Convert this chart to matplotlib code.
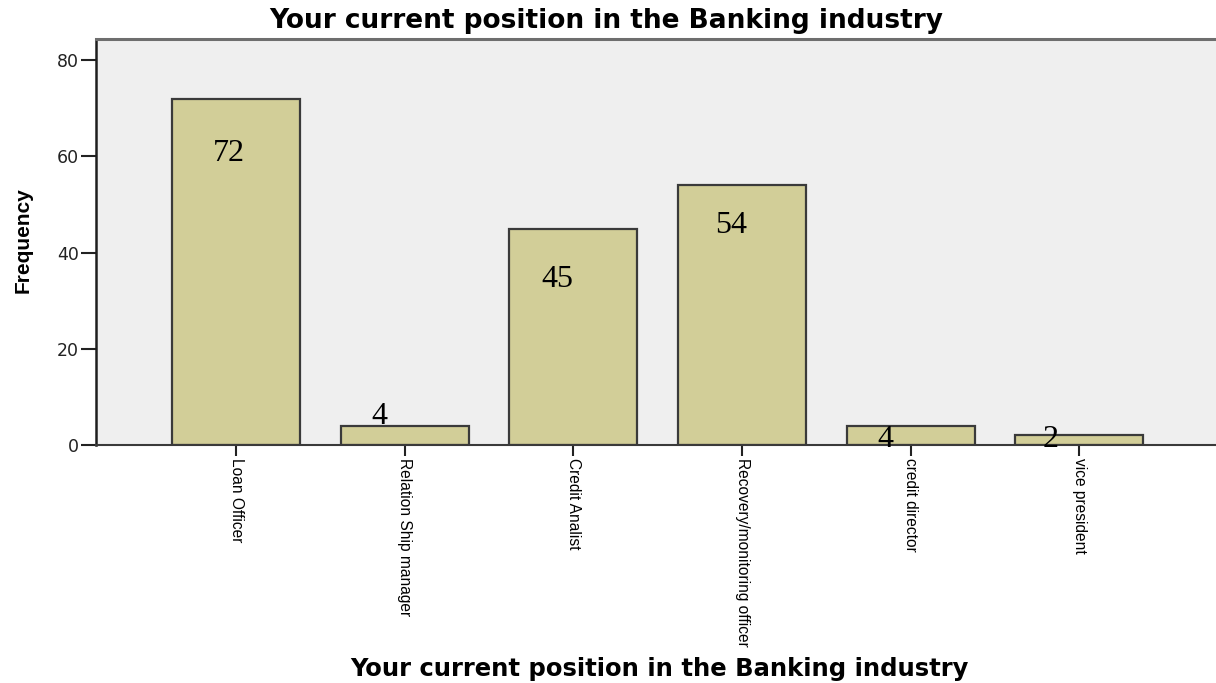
import matplotlib
matplotlib.use("Agg")
import matplotlib.pyplot as plt
import numpy as np

# Survey counts: current position in the banking industry
positions = ["Loan Officer", "Relation Ship manager", "Credit Analist",
             "Recovery/monitoring officer", "credit director", "vice president"]
frequency = [72, 4, 45, 54, 4, 2]
y_ticks = [0, 20, 40, 60, 80]

# Hand-placed annotation offsets (dx in category units, dy in frequency units)
label_dx = [-0.04, -0.15, -0.095, -0.065, -0.15, -0.17]
label_dy = [-13.0, 0.4, -12.15, -9.9, -4.4, -2.4]

fig = plt.figure(figsize=(12.16, 6.83), dpi=100)
ax = fig.add_axes([96 / 1216, 1 - 445 / 683, 1 - 96 / 1216, (445 - 39) / 683])
ax.set_facecolor("#efefef")

x = np.arange(len(positions))
ax.bar(x, frequency, width=0.76, color="#d2ce98", edgecolor="#3a3a3a",
       linewidth=1.6, zorder=2)

for xi, v, dx, dy in zip(x, frequency, label_dx, label_dy):
    ax.text(xi + dx, v + dy, str(v), ha="center", va="baseline",
            family="Liberation Serif", fontsize=23, color="black", zorder=3)

ax.set_xlim(-0.83, 5.81)
ax.set_ylim(0, 84.4)

ax.set_yticks(y_ticks)
ax.set_yticklabels([str(t) for t in y_ticks], family="DejaVu Sans",
                   fontsize=12.5, color="#222222")
ax.set_xticks(x)
ax.set_xticklabels(positions, rotation=270, ha="center", va="top",
                   family="Liberation Sans", fontsize=11.2, color="black")
ax.tick_params(axis="y", direction="out", length=11, width=1.5, pad=1.5,
               color="#222222")
ax.tick_params(axis="x", direction="out", length=8, width=1.5, pad=1,
               color="#222222")

ax.spines["left"].set_color("#1e1e1e")
ax.spines["left"].set_linewidth(1.8)
ax.spines["bottom"].set_color("#3a3a3a")
ax.spines["bottom"].set_linewidth(1.5)
ax.spines["top"].set_color("#6e6e6e")
ax.spines["top"].set_linewidth(2.2)
ax.spines["right"].set_visible(False)

fig.text(606 / 1216, 1 - 28 / 683, "Your current position in the Banking industry",
         ha="center", va="baseline", family="DejaVu Sans", fontweight="bold",
         fontsize=19, color="black")
fig.text(659 / 1216, 1 - 676 / 683,
         "Your current position in the Banking industry",
         ha="center", va="baseline", family="DejaVu Sans", fontweight="bold",
         fontsize=17.5, color="black")
fig.text(23 / 1216, 1 - 240 / 683, "Frequency", rotation=90,
         ha="center", va="center", family="Liberation Sans",
         fontweight="bold", fontsize=15, color="black")

fig.savefig("out.png", dpi=100, facecolor="white")
